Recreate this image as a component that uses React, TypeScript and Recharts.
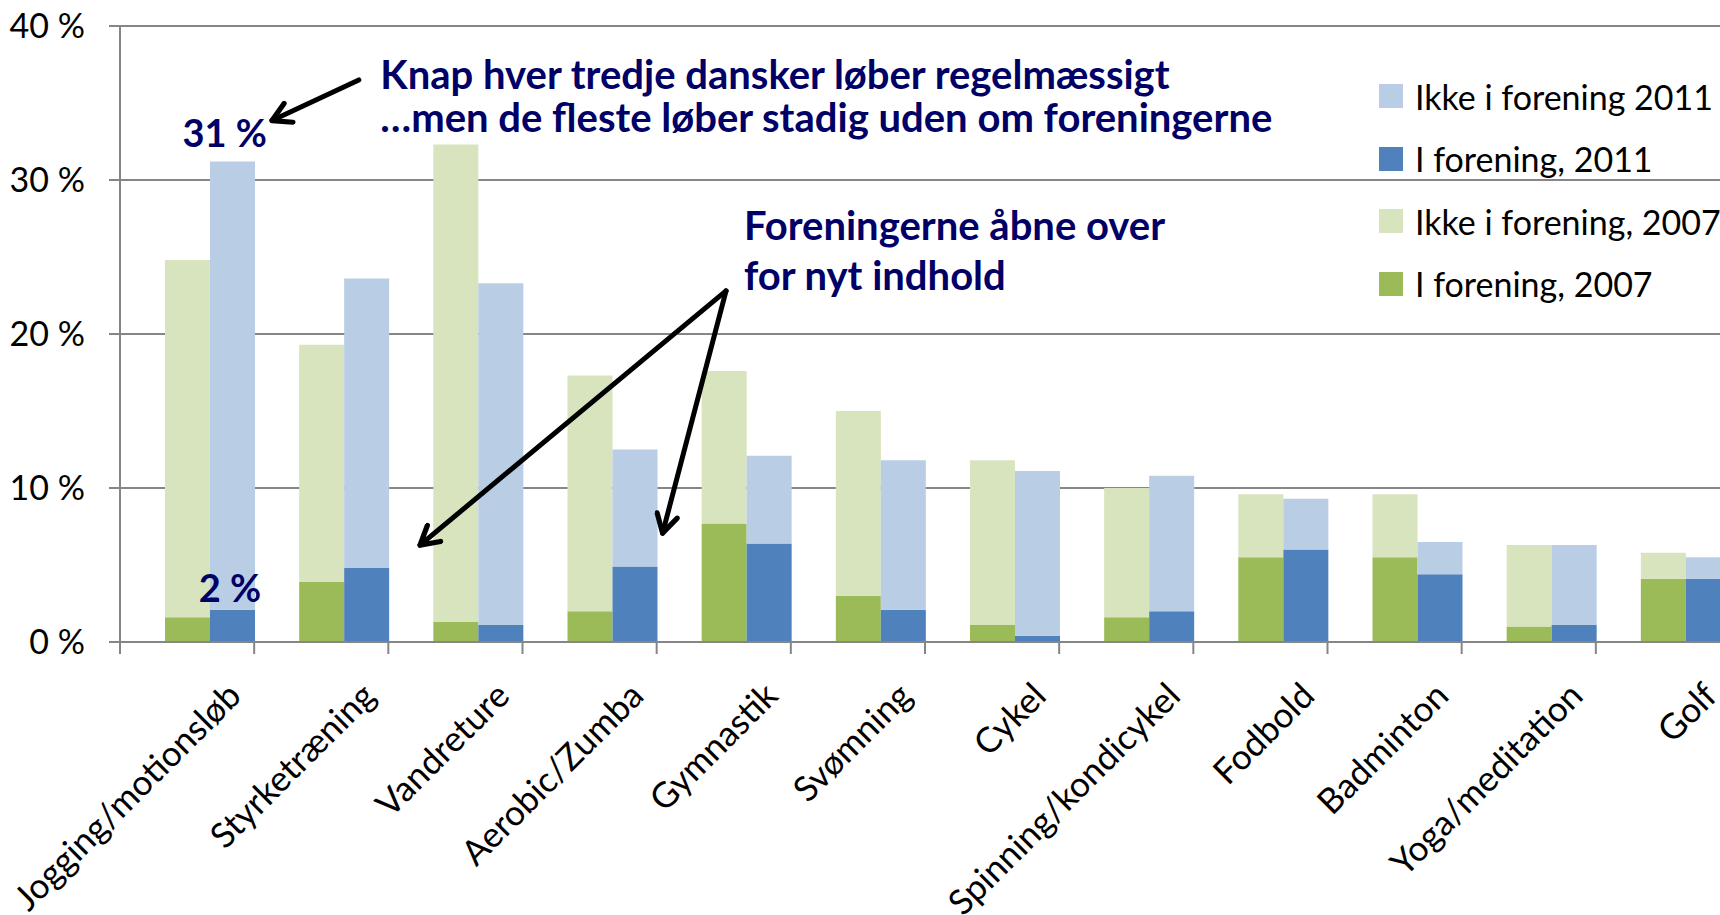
import { BarChart, Bar, XAxis, YAxis, CartesianGrid, Legend } from "recharts";

// Categories and values (percent of adults)
const categories = [
    "Jogging/motionsløb",
    "Styrketræning",
    "Vandreture",
    "Aerobic/Zumba",
    "Gymnastik",
    "Svømning",
    "Cykel",
    "Spinning/kondicykel",
    "Fodbold",
    "Badminton",
    "Yoga/meditation",
    "Golf",
];
const iForening2007 = [1.6, 3.9, 1.3, 2.0, 7.7, 3.0, 1.1, 1.6, 5.5, 5.5, 1.0, 4.1];
const ikkeForening2007 = [23.2, 15.4, 31.0, 15.3, 9.9, 12.0, 10.7, 8.4, 4.1, 4.1, 5.3, 1.7];
const iForening2011 = [2.1, 4.8, 1.1, 4.9, 6.4, 2.1, 0.4, 2.0, 6.0, 4.4, 1.1, 4.1];
const ikkeForening2011 = [29.1, 18.8, 22.2, 7.6, 5.7, 9.7, 10.7, 8.8, 3.3, 2.1, 5.2, 1.4];
const yTicks = [0, 10, 20, 30, 40];
const legendOrder = ["ikke2011", "i2011", "ikke2007", "i2007"];

const data = categories.map((name, i) => ({
    name,
    i2007: iForening2007[i],
    ikke2007: ikkeForening2007[i],
    i2011: iForening2011[i],
    ikke2011: ikkeForening2011[i],
}));

// layout
const W = 1760;
const H = 915;
const MARGIN = { top: 26, right: 30, bottom: 0, left: 0 };
const Y_AXIS_W = 120;
const X_AXIS_H = 273;
const PLOT_LEFT = MARGIN.left + Y_AXIS_W;
const BAND = (W - MARGIN.right - PLOT_LEFT) / categories.length;
const Y0 = H - MARGIN.bottom - X_AXIS_H;
const PER = (Y0 - MARGIN.top) / 40;

// annotation helpers: category units and percent -> pixels
const cx = (u: number) => PLOT_LEFT + u * BAND;
const cy = (v: number) => Y0 - v * PER;

const AXIS = "#868686";
const NAVY = "#000066";
const FONT = "Lato, 'Open Sans', sans-serif";

const CategoryTick = (props: any) => {
    const { x, payload } = props;
    const index = props.index ?? payload.index;
    const right = x + BAND / 2;
    const left = x - BAND / 2;
    const tx = right - 11;
    const ty = Y0 + 56;
    return (
        <g>
            {index === 0 && <line x1={left} x2={left} y1={Y0} y2={Y0 + 12} stroke={AXIS} strokeWidth={2} />}
            <line x1={right} x2={right} y1={Y0} y2={Y0 + 12} stroke={AXIS} strokeWidth={2} />
            <text x={tx} y={ty} textAnchor="end" fontSize={35} fill="#000" transform={`rotate(-45 ${tx} ${ty})`}>
                {payload.value}
            </text>
        </g>
    );
};

const LegendBox = (props: any) => {
    const items = legendOrder
        .map((key) => (props.payload || []).find((p: any) => p.dataKey === key))
        .filter(Boolean);
    return (
        <div>
            {items.map((p: any) => (
                <div key={p.value} style={{ display: "flex", alignItems: "center", height: 62.5 }}>
                    <span style={{ width: 24, height: 24, background: p.color, display: "inline-block", marginRight: 12 }} />
                    <span style={{ fontSize: 34, color: "#000", whiteSpace: "nowrap" }}>{p.value}</span>
                </div>
            ))}
        </div>
    );
};

export default function App() {
    return (
        <div
            style={{
                position: "fixed",
                left: 0,
                top: 0,
                width: 1720,
                height: 915,
                overflow: "hidden",
                background: "#fff",
                fontFamily: FONT,
            }}
        >
            <div style={{ position: "relative", width: W, height: H }}>
                <BarChart width={W} height={H} data={data} margin={MARGIN} barCategoryGap={0} barGap={0}>
                    <CartesianGrid vertical={false} stroke={AXIS} strokeWidth={2} />
                    <XAxis
                        dataKey="name"
                        height={X_AXIS_H}
                        interval={0}
                        tickLine={false}
                        axisLine={{ stroke: AXIS, strokeWidth: 2 }}
                        tick={<CategoryTick />}
                    />
                    <YAxis
                        width={Y_AXIS_W}
                        domain={[0, 40]}
                        ticks={yTicks}
                        tickFormatter={(v) => `${v} %`}
                        tickSize={11}
                        tickMargin={24}
                        tick={{ fontSize: 34, fill: "#000" }}
                        axisLine={{ stroke: AXIS, strokeWidth: 2 }}
                        tickLine={{ stroke: AXIS, strokeWidth: 2 }}
                    />
                    <Legend
                        layout="horizontal"
                        verticalAlign="middle"
                        align="center"
                        width={420}
                        wrapperStyle={{ left: 1379, top: 65, width: 420 }}
                        content={<LegendBox />}
                    />
                    {/* empty slot so each pair sits to the right of its band */}
                    <Bar dataKey="gap" stackId="gap" legendType="none" isAnimationActive={false} />
                    <Bar dataKey="i2007" name="I forening, 2007" stackId="y2007" fill="#9BBB59" isAnimationActive={false} />
                    <Bar dataKey="ikke2007" name="Ikke i forening, 2007" stackId="y2007" fill="#D7E4BD" isAnimationActive={false} />
                    <Bar dataKey="i2011" name="I forening, 2011" stackId="y2011" fill="#4F81BD" isAnimationActive={false} />
                    <Bar dataKey="ikke2011" name="Ikke i forening 2011" stackId="y2011" fill="#B9CDE5" isAnimationActive={false} />
                </BarChart>

                {/* annotations */}
                <svg width={W} height={H} style={{ position: "absolute", left: 0, top: 0, pointerEvents: "none" }}>
                    <defs>
                        <marker
                            id="head"
                            viewBox="0 0 20 20"
                            refX={17}
                            refY={10}
                            markerWidth={26}
                            markerHeight={26}
                            markerUnits="userSpaceOnUse"
                            orient="auto"
                        >
                            <path d="M3,2 L17,10 L3,18" fill="none" stroke="#000" strokeWidth={4} strokeLinecap="round" strokeLinejoin="round" />
                        </marker>
                    </defs>
                    <g fontWeight="bold" fill={NAVY} fontSize={40}>
                        <text x={cx(1.94)} y={cy(36.9)} dominantBaseline="central">Knap hver tredje dansker løber regelmæssigt</text>
                        <text x={cx(1.94)} y={cy(34.07)} dominantBaseline="central">…men de fleste løber stadig uden om foreningerne</text>
                        <text x={cx(0.78)} y={cy(33.1)} textAnchor="middle" dominantBaseline="central" fontSize={38}>31 %</text>
                        <text x={cx(0.82)} y={cy(3.56)} textAnchor="middle" dominantBaseline="central" fontSize={38}>2 %</text>
                        <text x={cx(4.65)} y={cy(27.08)} dominantBaseline="central">Foreningerne åbne over</text>
                        <text x={cx(4.65)} y={cy(23.83)} dominantBaseline="central">for nyt indhold</text>
                    </g>
                    <g stroke="#000" strokeWidth={5} strokeLinecap="round" fill="none">
                        <line x1={cx(1.78)} y1={cy(36.5)} x2={cx(1.133)} y2={cy(33.86)} markerEnd="url(#head)" />
                        <line x1={cx(4.517)} y1={cy(22.8)} x2={cx(2.236)} y2={cy(6.29)} markerEnd="url(#head)" />
                        <line x1={cx(4.517)} y1={cy(22.8)} x2={cx(4.044)} y2={cy(7.07)} markerEnd="url(#head)" />
                    </g>
                </svg>
            </div>
        </div>
    );
}
